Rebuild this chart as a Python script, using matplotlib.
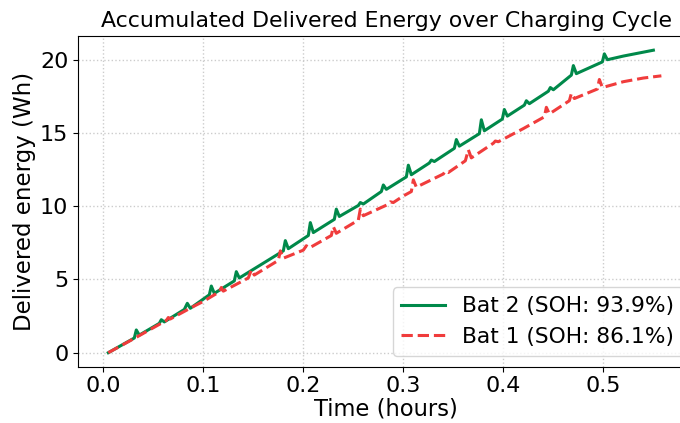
import matplotlib
matplotlib.use("Agg")
import matplotlib.pyplot as plt

# ---- data ----
t_bat2 = [0.005, 0.031, 0.033, 0.036, 0.056, 0.058, 0.061, 0.081, 0.084, 0.087,
          0.106, 0.108, 0.111, 0.131, 0.133, 0.136, 0.180, 0.182, 0.185, 0.205,
          0.207, 0.210, 0.231, 0.233, 0.236, 0.255, 0.257, 0.260, 0.278, 0.280,
          0.283, 0.303, 0.305, 0.308, 0.326, 0.328, 0.331, 0.351, 0.353, 0.356,
          0.376, 0.378, 0.381, 0.399, 0.401, 0.404, 0.421, 0.423, 0.426, 0.445,
          0.447, 0.450, 0.468, 0.470, 0.473, 0.499, 0.501, 0.504, 0.520, 0.535,
          0.550]
e_bat2 = [0.0, 1.0, 1.55, 1.2, 2.0, 2.25, 2.1, 2.95, 3.37, 3.03,
          3.95, 4.55, 4.05, 4.9, 5.53, 5.1, 6.95, 7.65, 7.1, 8.0,
          8.88, 8.2, 9.1, 9.8, 9.3, 10.05, 10.25, 10.15, 11.0, 11.45,
          11.15, 12.0, 12.8, 12.15, 12.95, 13.15, 13.05, 13.95, 14.55, 14.1,
          14.95, 15.9, 15.15, 15.95, 16.6, 16.15, 16.9, 17.2, 17.0, 17.85,
          18.1, 17.95, 18.95, 19.6, 19.05, 19.85, 20.4, 20.0, 20.25, 20.45,
          20.65]

t_bat1 = [0.005, 0.033, 0.063, 0.065, 0.067, 0.090, 0.100, 0.116, 0.118, 0.120,
          0.145, 0.148, 0.151, 0.175, 0.177, 0.180, 0.200, 0.203, 0.206, 0.228,
          0.230, 0.233, 0.255, 0.257, 0.260, 0.284, 0.287, 0.290, 0.300, 0.308,
          0.310, 0.313, 0.340, 0.342, 0.345, 0.362, 0.365, 0.368, 0.390, 0.392,
          0.395, 0.420, 0.441, 0.443, 0.446, 0.466, 0.468, 0.471, 0.494, 0.496,
          0.499, 0.520, 0.540, 0.558]
e_bat1 = [0.0, 1.05, 2.2, 2.4, 2.3, 3.15, 3.5, 4.15, 4.45, 4.2,
          5.1, 5.65, 5.3, 6.3, 6.95, 6.45, 7.0, 7.3, 7.15, 8.0,
          8.6, 8.15, 9.05, 9.8, 9.35, 10.1, 10.3, 10.25, 10.7, 11.0,
          11.8, 11.3, 12.2, 12.4, 12.3, 13.1, 13.85, 13.3, 14.3, 14.45,
          14.4, 15.3, 16.1, 16.75, 16.3, 17.2, 17.7, 17.35, 18.0, 18.65,
          18.1, 18.5, 18.75, 18.9]

label_bat2 = "Bat 2 (SOH: 93.9%)"
label_bat1 = "Bat 1 (SOH: 86.1%)"

# ---- figure ----
fig = plt.figure(figsize=(6.8, 4.23), dpi=100)
ax = fig.add_axes([0.1147, 0.133, 0.906, 0.7826])

ax.plot(t_bat2, e_bat2, color="#00894a", lw=2.2, label=label_bat2)
ax.plot(t_bat1, e_bat1, color="#f03c3c", lw=2.2, ls="--", label=label_bat1)

ax.set_xlim(-0.0253, 0.5907)
ax.set_ylim(-0.96, 21.64)
ax.set_xticks([0.0, 0.1, 0.2, 0.3, 0.4, 0.5])
ax.set_yticks([0, 5, 10, 15, 20])
ax.tick_params(labelsize=16)
ax.grid(True, ls=":", color="#cccccc", lw=1.0)

ax.set_xlabel("Time (hours)", fontsize=16.3, labelpad=1)
ax.set_ylabel("Delivered energy (Wh)", fontsize=16.5, labelpad=3)
ax.set_title("Accumulated Delivered Energy over Charging Cycle", fontsize=15.8, pad=6)
ax.legend(loc="lower right", fontsize=15.7)

fig.savefig("out.png", dpi=100)
